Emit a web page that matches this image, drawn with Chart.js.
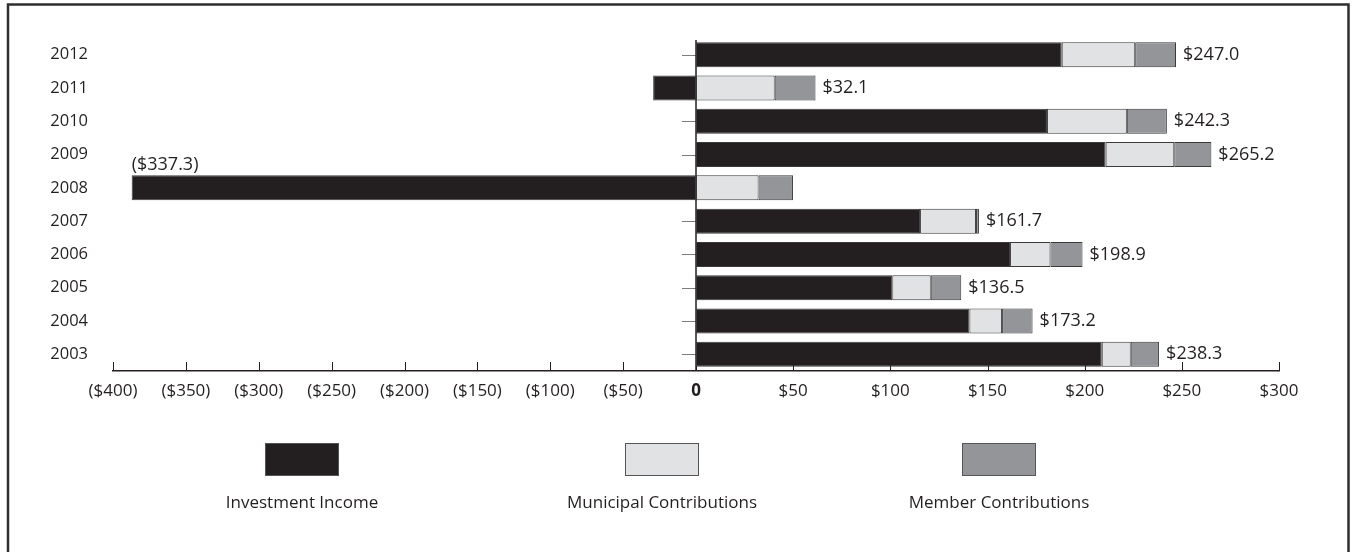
<!DOCTYPE html>
<html><head><meta charset="utf-8">
<script src="https://cdn.jsdelivr.net/npm/chart.js@4/dist/chart.umd.min.js"></script>
<style>html,body{margin:0;padding:0;background:#fff}#wrap{position:relative;width:1353px;height:552px}</style>
</head><body><div id="wrap"><canvas id="c" width="1353" height="552"></canvas></div>
<script>
const years = ['2012','2011','2010','2009','2008','2007','2006','2005','2004','2003'];
const investmentIncome = [188.2, -29.4, 180.6, 210.8, -387.2, 115.3, 161.6, 101.0, 140.7, 208.8];
const municipalContributions = [37.8, 40.5, 41.1, 35.3, 32.2, 28.8, 20.8, 19.8, 16.8, 14.9];
const memberContributions = [21.0, 21.0, 20.6, 19.1, 17.7, 1.5, 16.5, 15.7, 15.7, 14.6];
const totalLabels = ['$247.0','$32.1','$242.3','$265.2','($337.3)','$161.7','$198.9','$136.5','$173.2','$238.3'];
const seriesNames = ['Investment Income','Municipal Contributions','Member Contributions'];
const seriesColors = ['#231f20','#e1e2e4','#939598'];
const xMin = -400, xMax = 300, xStep = 50;

const FONT = "'Open Sans', sans-serif";
const INK = '#231f20';

// Axis with the zero point in the middle: negative and positive halves use different unit widths
class SplitLinearScale extends Chart.LinearScale {
  getPixelForValue(value) {
    if (value === null || value === undefined || isNaN(value)) return NaN;
    const zf = 0.5;
    let dec;
    if (value < 0) dec = zf * (value - this.min) / (0 - this.min);
    else dec = zf + (1 - zf) * value / this.max;
    return this.getPixelForDecimal(dec);
  }
  getValueForPixel(pixel) {
    const dec = this.getDecimalForPixel(pixel);
    const zf = 0.5;
    if (dec < zf) return this.min + (dec / zf) * (0 - this.min);
    return (dec - zf) / (1 - zf) * this.max;
  }
}
SplitLinearScale.id = 'splitLinear';
SplitLinearScale.defaults = Chart.LinearScale.defaults;
Chart.register(SplitLinearScale);

function fmtTick(v) {
  if (v === 0) return '0';
  if (v < 0) return '($' + (-v) + ')';
  return '$' + v;
}

const decor = {
  id: 'decor',
  beforeDatasetsDraw(chart) {
    const {ctx, chartArea, scales: {x, y}} = chart;
    const x0 = x.getPixelForValue(0);
    ctx.save();
    ctx.strokeStyle = '#7d7d7d';
    ctx.lineWidth = 1;
    years.forEach((_, i) => {
      const yy = Math.round(y.getPixelForValue(i)) + 0.5;
      ctx.beginPath(); ctx.moveTo(x0 - 14, yy); ctx.lineTo(x0, yy); ctx.stroke();
    });
    ctx.strokeStyle = INK;
    x.ticks.forEach(t => {
      const xx = Math.round(x.getPixelForValue(t.value)) + 0.5;
      ctx.beginPath(); ctx.moveTo(xx, chartArea.bottom); ctx.lineTo(xx, chartArea.bottom - 9); ctx.stroke();
    });
    ctx.lineWidth = 1.5;
    ctx.beginPath(); ctx.moveTo(x0, chartArea.top + 2); ctx.lineTo(x0, chartArea.bottom); ctx.stroke();
    ctx.restore();
  },
  afterDatasetsDraw(chart) {
    const {ctx, scales: {x}} = chart;
    ctx.save();
    ctx.fillStyle = INK;
    ctx.font = '18px ' + FONT;
    years.forEach((_, i) => {
      const vals = [investmentIncome[i], municipalContributions[i], memberContributions[i]];
      const pos = vals.filter(v => v > 0).reduce((a, b) => a + b, 0);
      const neg = vals.filter(v => v < 0).reduce((a, b) => a + b, 0);
      const net = pos + neg;
      const bar = chart.getDatasetMeta(0).data[i];
      ctx.textAlign = 'left';
      if (net < 0) {
        ctx.textBaseline = 'bottom';
        ctx.fillText(totalLabels[i], x.getPixelForValue(neg), bar.y - bar.height / 2 - 1);
      } else {
        ctx.textBaseline = 'middle';
        ctx.fillText(totalLabels[i], x.getPixelForValue(pos) + 7, bar.y);
      }
    });
    ctx.restore();
  },
  afterDraw(chart) {
    const {ctx} = chart;
    ctx.save();
    const centers = [302, 662, 999];
    seriesNames.forEach((name, i) => {
      const cx = centers[i];
      ctx.fillStyle = seriesColors[i];
      ctx.fillRect(cx - 37, 443, 74, 33);
      ctx.strokeStyle = '#555';
      ctx.lineWidth = 1;
      ctx.strokeRect(cx - 37 + 0.5, 443.5, 73, 32);
      ctx.fillStyle = INK;
      ctx.font = '17px ' + FONT;
      ctx.textAlign = 'center'; ctx.textBaseline = 'middle';
      ctx.fillText(name, cx, 503);
    });
    ctx.strokeStyle = '#2e2e2e';
    ctx.lineWidth = 2.5;
    ctx.strokeRect(8, 4.5, 1340.5, 620);
    ctx.restore();
  }
};

new Chart(document.getElementById('c'), {
  type: 'bar',
  data: {
    labels: years,
    datasets: [
      {label: seriesNames[0], data: investmentIncome, backgroundColor: seriesColors[0]},
      {label: seriesNames[1], data: municipalContributions, backgroundColor: seriesColors[1]},
      {label: seriesNames[2], data: memberContributions, backgroundColor: seriesColors[2]}
    ]
  },
  options: {
    indexAxis: 'y',
    responsive: false,
    animation: false,
    datasets: {bar: {borderColor: '#3a3a3a', borderWidth: 1, borderSkipped: false, categoryPercentage: 1, barPercentage: 0.75}},
    layout: {padding: {left: 0, right: 74, top: 38, bottom: 141}},
    plugins: {legend: {display: false}, tooltip: {enabled: false}},
    scales: {
      x: {
        type: 'splitLinear', stacked: true, min: xMin, max: xMax,
        grid: {display: false, drawTicks: false},
        border: {display: true, color: INK, width: 1.5},
        ticks: {
          stepSize: xStep, padding: 10, autoSkip: false, maxRotation: 0, color: INK,
          font: c => ({family: FONT, size: 17, weight: (c.tick && c.tick.value === 0) ? 'bold' : 'normal'}),
          callback: v => fmtTick(v)
        },
        afterFit: s => { s.height = 40; }
      },
      y: {
        stacked: true,
        grid: {display: false, drawTicks: false},
        border: {display: false},
        ticks: {padding: 25, color: INK, font: {family: FONT, size: 16.5}},
        afterFit: s => { s.width = 113; }
      }
    }
  },
  plugins: [decor]
});
</script></body></html>
